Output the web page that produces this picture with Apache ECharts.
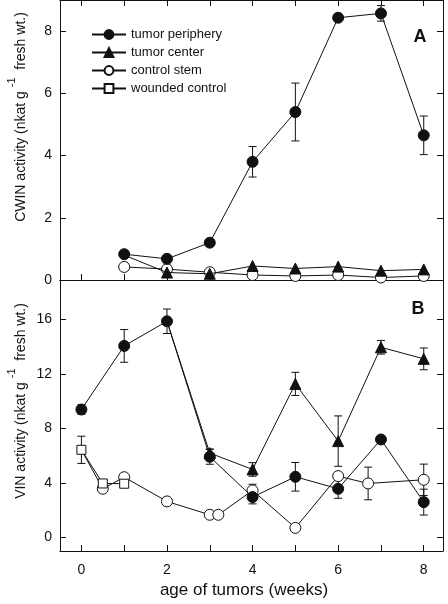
<!DOCTYPE html>
<html><head><meta charset="utf-8">
<script src="https://cdn.jsdelivr.net/npm/echarts@6/dist/echarts.min.js"></script>
<style>html,body{margin:0;padding:0;background:#fff}#c{width:448px;height:604px}</style>
</head><body><div id="c"></div>
<script>
// ---- data ----
var weekTicks = [0,1,2,3,4,5,6,7,8];
var weekLabels = [0,2,4,6,8];
var cwinTicks = [0,2,4,6,8];
var vinTicks = [0,4,8,12,16];

// Panel A: CWIN
var cwinPeriX = [1,2,3,4,5,6,7,8];
var cwinPeri = [0.83,0.68,1.20,3.80,5.40,8.43,8.57,4.65];
var cwinPeriSE = [0.1,0.1,0.1,0.49,0.93,0.1,0.25,0.62];
var cwinCentX = [1,2,3,4,5,6,7,8];
var cwinCent = [0.80,0.24,0.20,0.45,0.37,0.43,0.30,0.34];
var cwinCentHidden = [1];
var cwinCtrlX = [1,2,3,4,5,6,7,8];
var cwinCtrl = [0.42,0.35,0.25,0.16,0.13,0.16,0.08,0.13];

// Panel B: VIN
var vinPeriX = [0,1,2,3,4,5,6,7,8];
var vinPeri = [9.39,14.06,15.87,5.92,2.96,4.45,3.57,7.19,2.59];
var vinPeriSE = [0.35,1.2,0.9,0.55,0.5,1.05,0.7,0.2,0.95];
var vinCentX = [2,3,4,5,6,7,8];
var vinCent = [15.87,6.19,4.99,11.27,7.07,13.96,13.11];
var vinCentSE = [0,0.3,0.5,0.85,1.85,0.5,0.8];
var vinCentHidden = [2];
var vinCtrlX = [0,0.5,1,2,3,3.2,4,5,6,6.7,8];
var vinCtrl = [6.43,3.57,4.42,2.64,1.66,1.66,3.45,0.70,4.50,3.96,4.23];
var vinCtrlSE = [0,0,0,0,0,0,0.45,0,0,1.2,1.15];
var vinCtrlHidden = [0];
var vinWoundX = [0,0.5,1];
var vinWound = [6.43,3.96,3.94];
var vinWoundSE = [1.0,0,0];

var names = ['tumor periphery','tumor center','control stem','wounded control'];

// ---- build ----
var FONT = '"Liberation Sans", Arial, sans-serif';
var INK = '#111';
function pts(xs, ys, hidden) {
  return xs.map(function (x, i) {
    var d = {value: [x, ys[i]]};
    if (hidden && hidden.indexOf(x) >= 0) d.symbol = 'none';
    return d;
  });
}
function errs(xs, ys, se) {
  var out = [];
  xs.forEach(function (x, i) { if (se[i] > 0) out.push([x, ys[i] - se[i], ys[i] + se[i]]); });
  return out;
}
function errSeries(data, xi, yi) {
  return {
    type: 'custom', xAxisIndex: xi, yAxisIndex: yi, silent: true, z: 1,
    encode: {x: 0, y: [1, 2]},
    renderItem: function (params, api) {
      var x = api.value(0), lo = api.value(1), hi = api.value(2);
      var a = api.coord([x, hi]), b = api.coord([x, lo]);
      var w = 4;
      var st = {stroke: INK, lineWidth: 1};
      return {type: 'group', children: [
        {type: 'line', shape: {x1: a[0], y1: a[1], x2: b[0], y2: b[1]}, style: st},
        {type: 'line', shape: {x1: a[0]-w, y1: a[1], x2: a[0]+w, y2: a[1]}, style: st},
        {type: 'line', shape: {x1: b[0]-w, y1: b[1], x2: b[0]+w, y2: b[1]}, style: st}
      ]};
    },
    data: data
  };
}
var styles = {
  'tumor periphery': {symbol: 'circle', symbolSize: 11, itemStyle: {color: INK, borderColor: INK, borderWidth: 1}},
  'tumor center': {symbol: 'triangle', symbolSize: 11, itemStyle: {color: INK, borderColor: INK, borderWidth: 1}},
  'control stem': {symbol: 'circle', symbolSize: 11, itemStyle: {color: '#fff', borderColor: INK, borderWidth: 1}},
  'wounded control': {symbol: 'rect', symbolSize: 9, itemStyle: {color: '#fff', borderColor: INK, borderWidth: 1}}
};
function lineSeries(name, data, xi, yi, z) {
  var s = styles[name];
  return {
    type: 'line', name: name, xAxisIndex: xi, yAxisIndex: yi, data: data,
    symbol: s.symbol, symbolSize: s.symbolSize, showAllSymbol: true,
    itemStyle: s.itemStyle, lineStyle: {color: INK, width: 1},
    emphasis: {disabled: true}, animation: false, z: z
  };
}

function xAxisPair(gi, showLabels) {
  var base = {
    type: 'value', gridIndex: gi, min: -0.5, max: 8.45,
    splitLine: {show: false},
    axisLine: {show: true, onZero: false, lineStyle: {color: INK, width: 1}}
  };
  var bottom = Object.assign({}, base, {
    position: 'bottom',
    axisTick: {show: true, inside: true, length: 6, customValues: weekTicks, lineStyle: {color: INK}},
    axisLabel: {show: showLabels, customValues: weekLabels, margin: 12, color: INK, fontSize: 14, fontFamily: FONT}
  });
  if (showLabels) {
    bottom.name = 'age of tumors (weeks)';
    bottom.nameLocation = 'middle';
    bottom.nameGap = 31;
    bottom.nameTextStyle = {fontSize: 17, color: INK, fontFamily: FONT, padding: [0, 15, 0, 0]};
  }
  var top = Object.assign({}, base, {
    position: 'top',
    axisTick: {show: gi === 0, inside: true, length: 6, customValues: weekTicks, lineStyle: {color: INK}},
    axisLabel: {show: false}
  });
  return [bottom, top];
}
function yAxisPair(gi, min, max, ticks) {
  var base = {
    type: 'value', gridIndex: gi, min: min, max: max,
    splitLine: {show: false},
    axisLine: {show: true, onZero: false, lineStyle: {color: INK, width: 1}},
    axisTick: {show: true, inside: true, length: 6, customValues: ticks, lineStyle: {color: INK}}
  };
  var left = Object.assign({}, base, {
    position: 'left',
    axisLabel: {show: true, customValues: ticks, margin: 8, color: INK, fontSize: 14, fontFamily: FONT}
  });
  var right = Object.assign({}, base, {position: 'right', axisLabel: {show: false}});
  return [left, right];
}

var xAxes = xAxisPair(0, false).concat(xAxisPair(1, true));
var yAxes = yAxisPair(0, 0, 9, cwinTicks).concat(yAxisPair(1, -1, 18.9, vinTicks));

var series = [
  errSeries(errs(cwinPeriX, cwinPeri, cwinPeriSE), 0, 0),
  lineSeries('control stem', pts(cwinCtrlX, cwinCtrl), 0, 0, 2),
  lineSeries('tumor center', pts(cwinCentX, cwinCent, cwinCentHidden), 0, 0, 3),
  lineSeries('tumor periphery', pts(cwinPeriX, cwinPeri), 0, 0, 4),

  errSeries(errs(vinPeriX, vinPeri, vinPeriSE)
    .concat(errs(vinCentX, vinCent, vinCentSE))
    .concat(errs(vinCtrlX, vinCtrl, vinCtrlSE))
    .concat(errs(vinWoundX, vinWound, vinWoundSE)), 2, 2),
  lineSeries('control stem', pts(vinCtrlX, vinCtrl, vinCtrlHidden), 2, 2, 2),
  lineSeries('wounded control', pts(vinWoundX, vinWound), 2, 2, 3),
  lineSeries('tumor center', pts(vinCentX, vinCent, vinCentHidden), 2, 2, 3),
  lineSeries('tumor periphery', pts(vinPeriX, vinPeri), 2, 2, 4)
];

function yName(text1, x, y) {
  return {
    type: 'text', x: x, y: y, rotation: Math.PI / 2, silent: true,
    style: {
      text: '{a|' + text1 + ' }{s|-1}{a|  fresh wt.)}',
      align: 'center', verticalAlign: 'middle',
      rich: {
        a: {fontSize: 14, fontFamily: FONT, fill: INK, color: INK, lineHeight: 22, verticalAlign: 'bottom'},
        s: {fontSize: 11, fontFamily: FONT, fill: INK, color: INK, lineHeight: 11, verticalAlign: 'top'}
      }
    }
  };
}

var option = {
  backgroundColor: '#fff',
  animation: false,
  grid: [
    {left: 60, right: 5, top: 0, height: 280, containLabel: false},
    {left: 60, right: 5, top: 280, height: 271, containLabel: false}
  ],
  xAxis: xAxes,
  yAxis: yAxes,
  legend: {
    data: names, orient: 'vertical', left: 86, top: 23,
    itemWidth: 34, itemHeight: 11, itemGap: 5,
    textStyle: {fontSize: 13, color: INK, fontFamily: FONT, lineHeight: 13},
    selectedMode: false
  },
  graphic: [
    yName('CWIN activity (nkat g', 17, 117),
    yName('VIN activity (nkat g', 17, 401),
    {type: 'text', x: 420, y: 37, silent: true,
     style: {text: 'A', font: 'bold 18px ' + FONT, fill: INK, align: 'center', verticalAlign: 'middle'}},
    {type: 'text', x: 418, y: 309, silent: true,
     style: {text: 'B', font: 'bold 18px ' + FONT, fill: INK, align: 'center', verticalAlign: 'middle'}}
  ],
  series: series
};
var chart = echarts.init(document.getElementById('c'), null, {renderer: 'canvas'});
chart.setOption(option);
</script></body></html>
